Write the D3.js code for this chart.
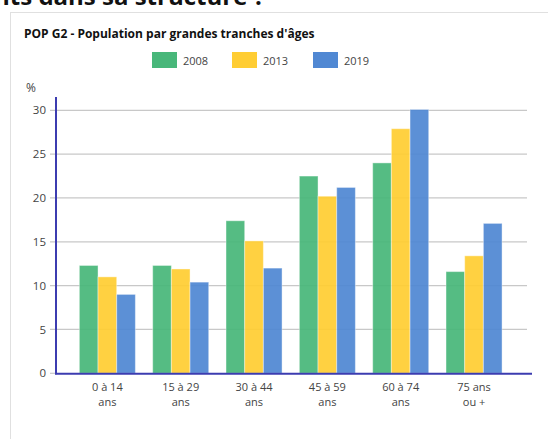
<!DOCTYPE html>
<html><head><meta charset="utf-8">
<script src="https://cdn.jsdelivr.net/npm/d3@7"></script>
<style>body{margin:0;background:#fff;}svg{display:block;}</style>
</head><body>
<script>
const categories = [["0 à 14","ans"],["15 à 29","ans"],["30 à 44","ans"],["45 à 59","ans"],["60 à 74","ans"],["75 ans","ou +"]];
const seriesNames = ["2008","2013","2019"];
const v2008 = [12.3, 12.3, 17.4, 22.5, 24.0, 11.6];
const v2013 = [11.0, 11.9, 15.1, 20.2, 27.9, 13.4];
const v2019 = [9.0, 10.4, 12.0, 21.2, 30.1, 17.1];
const colors = ["#48b77a", "#ffcd33", "#5088d3"];
const yTicks = [0,5,10,15,20,25,30];

const W=548,H=439;
const svg=d3.select("body").append("svg").attr("width",W).attr("height",H);
const font="'Open Sans', sans-serif";

// heading cut at top
svg.append("text").attr("x",265).attr("y",5).attr("text-anchor","end")
  .attr("font-family",font).attr("font-weight","bold").attr("font-size",24).attr("fill","#111")
  .text("Quels changements dans sa structure ?");

// card
svg.append("rect").attr("x",10.5).attr("y",12.5).attr("width",W).attr("height",H).attr("fill","#fff").attr("stroke","#e0e0e0");

svg.append("text").attr("x",24).attr("y",38).attr("font-family",font).attr("font-weight","bold")
  .attr("font-size",12).attr("fill","#111").text("POP G2 - Population par grandes tranches d'âges");

// legend
const legX=[152,232,313];
seriesNames.forEach((s,i)=>{
  svg.append("rect").attr("x",legX[i]).attr("y",52).attr("width",25).attr("height",16).attr("fill",colors[i]);
  svg.append("text").attr("x",legX[i]+31).attr("y",65).attr("font-family",font).attr("font-size",11).attr("fill","#444").text(s);
});

const y=d3.scaleLinear().domain([0,30]).range([373.3,110.3]);
const x0=d3.scaleBand().domain(d3.range(categories.length)).range([70.7,510.7]).paddingInner(0.236).paddingOuter(0.118);
const x1=d3.scaleBand().domain(seriesNames).range([0,x0.bandwidth()]);

// grid
const g=svg.append("g");
g.selectAll("line.grid").data(yTicks.filter(t=>t>0)).join("line")
  .attr("x1",50).attr("x2",527).attr("y1",d=>y(d)).attr("y2",d=>y(d))
  .attr("stroke","#c8c8c8").attr("stroke-width",1.2);
svg.append("line").attr("x1",50).attr("x2",56).attr("y1",y(0)).attr("y2",y(0)).attr("stroke","#c8c8c8").attr("stroke-width",1.2);

// y labels
const yAxis=d3.axisLeft(y).tickValues(yTicks).tickSize(0).tickPadding(10);
const ya=svg.append("g").attr("transform","translate(56,0)").call(yAxis);
ya.select(".domain").remove();
ya.selectAll("text").attr("font-family",font).attr("font-size",11.5).attr("fill","#444");
svg.append("text").attr("x",26).attr("y",92).attr("font-family",font).attr("font-size",12).attr("fill","#444").text("%");

// bars
const data=[v2008,v2013,v2019];
categories.forEach((c,ci)=>{
  seriesNames.forEach((s,si)=>{
    svg.append("rect").attr("x",x0(ci)+x1(s)).attr("width",x1.bandwidth())
      .attr("y",y(data[si][ci])).attr("height",y(0)-y(data[si][ci]))
      .attr("fill",colors[si]).attr("fill-opacity",0.93)
      .attr("stroke","#ffffff").attr("stroke-opacity",0.4).attr("stroke-width",1);
  });
});

// axes lines
svg.append("line").attr("x1",56).attr("x2",56).attr("y1",97).attr("y2",374.3).attr("stroke","#3c3cb0").attr("stroke-width",2);
svg.append("line").attr("x1",55).attr("x2",532).attr("y1",373.8).attr("y2",373.8).attr("stroke","#3c3cb0").attr("stroke-width",2);

// x labels
categories.forEach((c,ci)=>{
  const cx=x0(ci)+x0.bandwidth()/2;
  c.forEach((line,li)=>{
    svg.append("text").attr("x",cx).attr("y",391+li*15).attr("text-anchor","middle")
      .attr("font-family",font).attr("font-size",11).attr("fill","#444").text(line);
  });
});
</script>
</body></html>
